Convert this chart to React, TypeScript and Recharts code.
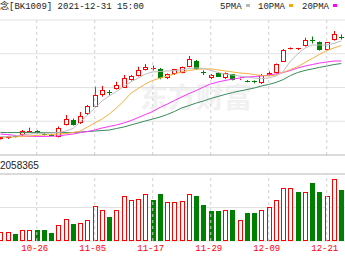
import React from 'react';
import { ComposedChart, Bar, Line, XAxis, YAxis, CartesianGrid, ReferenceLine } from 'recharts';

// trading days visible in the crop (10-19 .. 12-23)
const dates = [
  '10-19', '10-20', '10-21', '10-22', '10-25', '10-26', '10-27', '10-28', '10-29', '11-01',
  '11-02', '11-03', '11-04', '11-05', '11-08', '11-09', '11-10', '11-11', '11-12', '11-15',
  '11-16', '11-17', '11-18', '11-19', '11-22', '11-23', '11-24', '11-25', '11-26', '11-29',
  '11-30', '12-01', '12-02', '12-03', '12-06', '12-07', '12-08', '12-09', '12-10', '12-13',
  '12-14', '12-15', '12-16', '12-17', '12-20', '12-21', '12-22', '12-23',
];

const opens = [
  1095, 1098, 1114, 1118, 1140, 1141, 1126, 1120, 1108, 1178,
  1210, 1188, 1241, 1286, 1356, 1372, 1391, 1399, 1444, 1468,
  1504, 1513, 1508, 1455, 1479, 1488, 1523, 1559, 1490, 1455,
  1488, 1455, 1478, 1453, 1440, 1436, 1425, 1474, 1486, 1554,
  1635, 1633, 1646, 1684, 1667, 1622, 1681, 1702,
];
const closes = [
  1104, 1110, 1108, 1142, 1144, 1136, 1123, 1115, 1162, 1212,
  1178, 1233, 1290, 1356, 1385, 1367, 1415, 1455, 1468, 1504,
  1520, 1514, 1458, 1478, 1507, 1520, 1567, 1508, 1486, 1474,
  1465, 1484, 1444, 1455, 1437, 1433, 1474, 1488, 1538, 1622,
  1636, 1634, 1681, 1680, 1622, 1667, 1717, 1699,
];
const highs = [
  1107, 1113, 1119, 1148, 1162, 1148, 1133, 1124, 1169, 1237,
  1216, 1255, 1296, 1405, 1409, 1385, 1434, 1474, 1474, 1523,
  1539, 1530, 1516, 1483, 1510, 1524, 1587, 1563, 1501, 1480,
  1492, 1489, 1480, 1462, 1444, 1442, 1480, 1495, 1542, 1628,
  1637, 1635, 1695, 1702, 1673, 1670, 1735, 1714,
];
const lows = [
  1092, 1095, 1104, 1113, 1134, 1130, 1116, 1113, 1104, 1175,
  1175, 1184, 1237, 1284, 1346, 1353, 1388, 1397, 1441, 1465,
  1501, 1501, 1449, 1450, 1474, 1484, 1520, 1504, 1474, 1450,
  1462, 1450, 1442, 1444, 1431, 1425, 1421, 1471, 1483, 1551,
  1625, 1622, 1643, 1661, 1619, 1619, 1678, 1684,
];

const ma5 = [
  1110, 1110, 1113, 1119, 1124, 1127, 1130, 1130, 1133, 1142,
  1157, 1196, 1237, 1279, 1320, 1350, 1376, 1406, 1433, 1456,
  1480, 1492, 1495, 1498, 1501, 1504, 1513, 1516, 1513, 1501,
  1489, 1480, 1474, 1468, 1462, 1456, 1453, 1456, 1468, 1495,
  1557, 1599, 1634, 1652, 1652, 1652, 1661, 1676,
];
const ma10 = [
  1107, 1107, 1107, 1110, 1113, 1116, 1119, 1121, 1124, 1127,
  1133, 1142, 1166, 1190, 1213, 1243, 1279, 1320, 1367, 1394,
  1421, 1442, 1456, 1468, 1480, 1492, 1501, 1507, 1510, 1510,
  1504, 1498, 1492, 1486, 1483, 1477, 1471, 1468, 1474, 1489,
  1507, 1524, 1548, 1572, 1596, 1619, 1634, 1649,
];
const ma20 = [
  1124, 1121, 1116, 1113, 1111, 1110, 1110, 1111, 1113, 1119,
  1124, 1133, 1139, 1148, 1160, 1169, 1178, 1190, 1204, 1222,
  1240, 1258, 1282, 1302, 1323, 1344, 1364, 1382, 1403, 1421,
  1433, 1442, 1450, 1456, 1462, 1465, 1468, 1474, 1480, 1489,
  1501, 1516, 1527, 1536, 1545, 1551, 1557, 1557,
];
const ma60 = [
  1133, 1133, 1133, 1133, 1133, 1133, 1133, 1133, 1133, 1133,
  1133, 1136, 1139, 1142, 1145, 1148, 1157, 1166, 1178, 1190,
  1202, 1213, 1225, 1240, 1258, 1279, 1293, 1308, 1320, 1335,
  1347, 1359, 1370, 1379, 1388, 1397, 1409, 1418, 1430, 1447,
  1471, 1489, 1501, 1510, 1519, 1527, 1536, 1542,
];

const volumes = [
  53, 53, 43, 63, 63, 67, 63, 49, 93, 129,
  103, 109, 128, 209, 188, 143, 188, 269, 244, 250,
  280, 244, 280, 233, 230, 238, 280, 268, 212, 177,
  177, 188, 188, 128, 167, 167, 183, 203, 244, 314,
  314, 293, 290, 348, 293, 268, 368, 304,
];

const labelTicks = [5, 13, 21, 29, 37, 45];
const priceTicks = [1000, 1100, 1200, 1300, 1400, 1500, 1600, 1700, 1800];
const volTicks = [0, 100, 200, 300, 400];

const RED = '#ff0000';
const GREEN = '#008000';
const X_DOMAIN: [number, number] = [-0.069, 47.517];

const data = dates.map((date, i) => ({
  i,
  date,
  open: opens[i],
  close: closes[i],
  high: highs[i],
  low: lows[i],
  range: [lows[i], highs[i]],
  ma5: ma5[i],
  ma10: ma10[i],
  ma20: ma20[i],
  ma60: ma60[i],
  vol: volumes[i],
  volUp: i === 0 ? true : closes[i] >= closes[i - 1],
}));

const Candle = (props: any) => {
  const { x, y, width, height, payload } = props;
  const { open, close, high, low } = payload;
  const up = close >= open;
  const color = up ? RED : GREEN;
  const k = height / (high - low);
  const yOf = (v: number) => y + (high - v) * k;
  const left = Math.round(x + width / 2) - 2;
  const cx = left + 2.5;
  const top = Math.round(yOf(Math.max(open, close)));
  const bot = Math.round(yOf(Math.min(open, close)));
  const hi = yOf(high);
  const lo = yOf(low);
  if (bot - top < 1) {
    return (
      <g>
        <line x1={cx} x2={cx} y1={hi} y2={lo} stroke={color} />
        <line x1={left} x2={left + 5} y1={top + 0.5} y2={top + 0.5} stroke={color} />
      </g>
    );
  }
  return (
    <g>
      <line x1={cx} x2={cx} y1={hi} y2={top} stroke={color} />
      <line x1={cx} x2={cx} y1={bot} y2={lo} stroke={color} />
      {up ? (
        <rect x={left + 0.5} y={top + 0.5} width={4} height={bot - top - 1} fill="#fff" stroke={color} />
      ) : (
        <rect x={left} y={top} width={5} height={bot - top} fill={color} />
      )}
    </g>
  );
};

const VolBar = (props: any) => {
  const { x, y, width, height, payload } = props;
  const left = Math.round(x + width / 2) - 2;
  const top = Math.round(y);
  const h = Math.round(y + height) - top;
  if (payload.volUp) {
    return <rect x={left + 0.5} y={top + 0.5} width={4} height={h - 1} fill="#fff" stroke={RED} />;
  }
  return <rect x={left} y={top} width={5} height={h} fill={GREEN} />;
};

const mono = '"Liberation Mono", "Noto Sans CJK SC", monospace';

export default function App() {
  return (
    <div style={{ position: 'absolute', left: 0, top: 0, width: 345, height: 259, overflow: 'hidden', background: '#fff' }}>
      <div style={{ position: 'absolute', left: 140, top: 76, fontSize: 28, fontWeight: 700, color: '#f1f1f1', fontFamily: '"Noto Sans CJK SC"', whiteSpace: 'nowrap' }}>
        东方财富
      </div>

      <div style={{ position: 'absolute', left: 0, top: 1, fontSize: 9, lineHeight: '12px', fontFamily: mono, color: '#222', whiteSpace: 'nowrap' }}>
        念[BK1009] 2021-12-31 15:00
      </div>
      <div style={{ position: 'absolute', left: 220, top: 1, fontSize: 9, lineHeight: '12px', fontFamily: mono, color: '#222', whiteSpace: 'nowrap' }}>
        5PMA<span style={{ display: 'inline-block', width: 4, height: 3, background: '#b8b8b8', margin: '0 0 2px 4px' }} />
      </div>
      <div style={{ position: 'absolute', left: 258, top: 1, fontSize: 9, lineHeight: '12px', fontFamily: mono, color: '#222', whiteSpace: 'nowrap' }}>
        10PMA<span style={{ display: 'inline-block', width: 4, height: 3, background: '#ffa500', margin: '0 0 2px 4px' }} />
      </div>
      <div style={{ position: 'absolute', left: 302, top: 1, fontSize: 9, lineHeight: '12px', fontFamily: mono, color: '#222', whiteSpace: 'nowrap' }}>
        20PMA<span style={{ display: 'inline-block', width: 4, height: 3, background: '#ff00ff', margin: '0 0 2px 4px' }} />
      </div>

      <div style={{ position: 'absolute', left: 0, top: 0 }}>
        <ComposedChart width={345} height={160} data={data} margin={{ top: 20, right: 0, bottom: 5, left: 0 }}>
          <CartesianGrid vertical={false} stroke="#e2e2e2" />
          <XAxis type="number" dataKey="i" domain={X_DOMAIN} allowDataOverflow hide />
          <YAxis type="number" domain={[1000, 1800]} ticks={priceTicks} allowDataOverflow hide />
          {labelTicks.map((t) => (
            <ReferenceLine key={t} x={t} stroke="#cfcfcf" strokeDasharray="3 3" />
          ))}
          <ReferenceLine y={1000} stroke="#c4c4c4" />
          <Bar dataKey="range" barSize={5} shape={<Candle />} isAnimationActive={false} />
          <Line type="linear" dataKey="ma60" stroke="#3a8a5c" strokeWidth={1} dot={false} isAnimationActive={false} />
          <Line type="linear" dataKey="ma20" stroke="#ff33ff" strokeWidth={1} dot={false} isAnimationActive={false} />
          <Line type="linear" dataKey="ma10" stroke="#f7b041" strokeWidth={1} dot={false} isAnimationActive={false} />
          <Line type="linear" dataKey="ma5" stroke="#bdbdbd" strokeWidth={1} dot={false} isAnimationActive={false} />
        </ComposedChart>
      </div>

      <div style={{ position: 'absolute', left: 0, top: 159, fontSize: 10, lineHeight: '14px', fontFamily: '"Liberation Sans", Arial, sans-serif', color: '#222' }}>
        2058365
      </div>

      <div style={{ position: 'absolute', left: 0, top: 170 }}>
        <ComposedChart width={345} height={89} data={data} margin={{ top: 4, right: 0, bottom: 0, left: 0 }}>
          <CartesianGrid vertical={false} stroke="#e2e2e2" />
          <XAxis
            type="number"
            dataKey="i"
            domain={X_DOMAIN}
            allowDataOverflow
            ticks={labelTicks}
            interval={0}
            tickFormatter={(v: number) => dates[v]}
            axisLine={false}
            tickLine={false}
            tickSize={0}
            tickMargin={4}
            height={18}
            tick={{ fill: RED, fontSize: 9, fontFamily: mono, dx: -2 }}
          />
          <YAxis type="number" domain={[0, 400]} ticks={volTicks} allowDataOverflow hide />
          {labelTicks.map((t) => (
            <ReferenceLine key={t} x={t} stroke="#cfcfcf" strokeDasharray="3 3" />
          ))}
          <ReferenceLine y={400} stroke="#c4c4c4" />
          <Bar dataKey="vol" barSize={5} shape={<VolBar />} isAnimationActive={false} />
        </ComposedChart>
      </div>
    </div>
  );
}
